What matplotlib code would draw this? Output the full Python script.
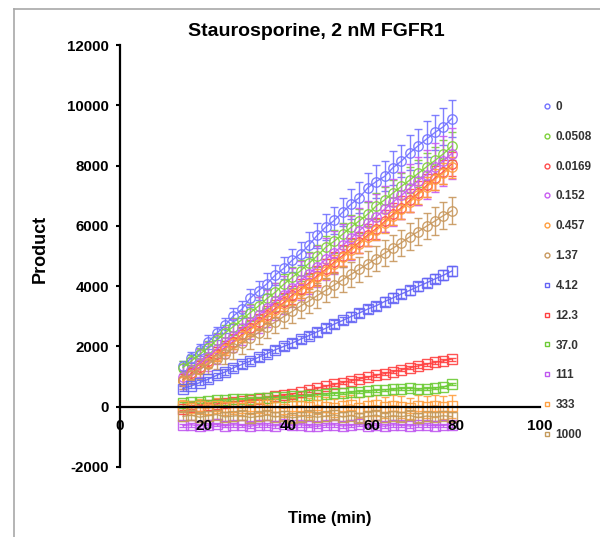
import matplotlib
matplotlib.use("Agg")
import matplotlib.pyplot as plt
from matplotlib.lines import Line2D

plt.rcParams['font.family'] = ['Liberation Sans', 'DejaVu Sans']
plt.rcParams['font.weight'] = 'bold'

# ---------------- data ----------------
time_min = [15, 17, 19, 21, 23, 25, 27, 29, 31, 33, 35, 37, 39, 41, 43, 45, 47,
            49, 51, 53, 55, 57, 59, 61, 63, 65, 67, 69, 71, 73, 75, 77, 79]

concentrations = ["0", "0.0508", "0.0169", "0.152", "0.457", "1.37",
                  "4.12", "12.3", "37.0", "111", "333", "1000"]

y_0 = [1350, 1620, 1880, 2150, 2430, 2700, 3010, 3230, 3600, 3850, 4080, 4370, 4590,
       4860, 5080, 5370, 5690, 5960, 6180, 6450, 6720, 6940, 7260, 7470, 7640, 7930,
       8150, 8420, 8660, 8880, 9100, 9290, 9560]
e_0 = [160, 180, 190, 220, 230, 240, 260, 280, 300, 310, 340, 330, 360, 380, 390, 420,
       410, 440, 460, 470, 500, 520, 480, 540, 500, 560, 540, 580, 560, 600, 570, 620, 600]

y_0508 = [1300, 1520, 1740, 1960, 2210, 2440, 2660, 2890, 3120, 3340, 3590, 3800, 4060,
          4290, 4510, 4760, 5010, 5290, 5490, 5720, 5950, 6170, 6390, 6660, 6860, 7090,
          7310, 7520, 7740, 7960, 8170, 8390, 8650]
e_0508 = [200, 210, 220, 230, 240, 260, 270, 280, 290, 300, 310, 320, 330, 340, 350, 360,
          370, 380, 380, 390, 400, 400, 410, 420, 420, 430, 430, 440, 440, 450, 450, 460, 460]

y_0169 = [900, 1110, 1310, 1520, 1750, 1960, 2160, 2400, 2610, 2810, 3050, 3260, 3460,
          3700, 3910, 4110, 4350, 4560, 4800, 5010, 5250, 5460, 5700, 5910, 6150, 6390,
          6600, 6850, 7090, 7340, 7590, 7800, 8050]
e_0169 = [180, 190, 200, 210, 220, 230, 240, 250, 260, 270, 280, 290, 300, 300, 310, 320,
          320, 330, 340, 340, 350, 350, 360, 360, 370, 370, 380, 380, 390, 390, 400, 400, 400]

y_152 = [1000, 1210, 1450, 1660, 1900, 2140, 2360, 2600, 2810, 3050, 3260, 3500, 3710,
         3950, 4190, 4410, 4650, 4890, 5110, 5350, 5590, 5840, 6090, 6300, 6550, 6790,
         7010, 7250, 7490, 7700, 7940, 8160, 8400]
e_152 = [400, 420, 450, 470, 500, 520, 540, 560, 580, 600, 610, 620, 640, 650, 660, 680,
         690, 700, 710, 720, 730, 740, 750, 760, 770, 780, 790, 800, 800, 810, 820, 830, 840]

y_457 = [850, 1040, 1250, 1460, 1690, 1900, 2110, 2340, 2550, 2760, 2990, 3200, 3410,
         3640, 3850, 4060, 4290, 4500, 4740, 4950, 5190, 5400, 5640, 5850, 6090, 6340,
         6550, 6790, 7040, 7290, 7540, 7750, 7950]
e_457 = [150, 160, 170, 180, 190, 200, 210, 210, 220, 230, 240, 240, 250, 260, 260, 270,
         280, 280, 290, 290, 300, 300, 310, 310, 320, 320, 330, 330, 330, 340, 340, 350, 350]

y_137 = [900, 1060, 1240, 1410, 1590, 1760, 1940, 2110, 2290, 2460, 2640, 2810, 2990,
         3160, 3340, 3510, 3690, 3860, 4040, 4210, 4390, 4560, 4740, 4910, 5090, 5260,
         5440, 5640, 5810, 5990, 6160, 6340, 6500]
e_137 = [300, 310, 320, 330, 340, 350, 350, 360, 360, 370, 370, 380, 380, 390, 390, 400,
         400, 400, 410, 410, 410, 420, 420, 420, 430, 430, 430, 440, 440, 440, 450, 450, 450]

y_412 = [600, 690, 800, 910, 1040, 1150, 1290, 1400, 1510, 1640, 1760, 1890, 2000, 2110,
         2240, 2360, 2490, 2600, 2740, 2860, 2990, 3110, 3240, 3350, 3490, 3610, 3740,
         3860, 3990, 4110, 4240, 4360, 4500]
e_412 = [80, 80, 90, 90, 90, 100, 100, 100, 110, 110, 110, 110, 120, 120, 120, 120, 130,
         130, 130, 130, 140, 140, 140, 140, 140, 150, 150, 150, 150, 150, 150, 160, 160]

y_123 = [-60, -10, 30, 60, 90, 120, 150, 180, 220, 260, 300, 340, 380, 420, 480, 540,
         610, 680, 740, 800, 860, 920, 980, 1040, 1100, 1160, 1220, 1290, 1350, 1410,
         1470, 1520, 1580]
e_123 = [50] * 33

y_370 = [130, 150, 170, 190, 210, 220, 240, 250, 270, 280, 300, 310, 330, 340, 360, 380,
         400, 420, 440, 460, 480, 500, 520, 540, 560, 580, 600, 610, 580, 600, 620, 650, 760]
e_370 = [40] * 33

y_111 = [-620, -600, -640, -610, -590, -630, -600, -620, -650, -600, -610, -640, -590,
         -620, -600, -630, -650, -610, -600, -640, -620, -590, -630, -610, -650, -600,
         -620, -640, -600, -610, -630, -620, -600]
e_111 = [60] * 33

y_333 = [20, -40, 10, -60, 30, -20, 0, -50, 20, -30, 40, -10, -60, 10, 30, -20, 50,
         0, -40, 20, 60, -30, 10, 40, -20, 30, 0, -50, 20, -10, 30, -20, 10]
e_333 = [200, 220, 240, 230, 250, 260, 240, 270, 260, 280, 270, 290, 280, 300, 290, 310,
         300, 320, 310, 330, 320, 340, 330, 350, 340, 350, 360, 350, 360, 370, 360, 380, 370]

y_1000 = [-320, -280, -350, -300, -260, -340, -310, -290, -360, -320, -280, -340, -300,
          -370, -330, -290, -350, -310, -270, -340, -300, -360, -320, -280, -350, -300,
          -330, -290, -360, -310, -340, -300, -330]
e_1000 = [150] * 33

series_y = [y_0, y_0508, y_0169, y_152, y_457, y_137, y_412, y_123, y_370, y_111, y_333, y_1000]
series_e = [e_0, e_0508, e_0169, e_152, e_457, e_137, e_412, e_123, e_370, e_111, e_333, e_1000]

colors = ["#7272FF", "#7FD13B", "#FF4B4B", "#C85CF2", "#FF9E3D", "#C8985E",
          "#6464F5", "#FF4040", "#6CCB35", "#C057F0", "#FFA040", "#C49A5C"]
markers = ["o"] * 6 + ["s"] * 6

xticks = [0, 20, 40, 60, 80, 100]
yticks = [-2000, 0, 2000, 4000, 6000, 8000, 10000, 12000]

# ---------------- figure ----------------
fig = plt.figure(figsize=(6.0, 5.37), dpi=100)
ax = fig.add_axes([0.2, 0.1304, 0.7, 0.7858])

for yv, ev, c, m in zip(series_y, series_e, colors, markers):
    ax.errorbar(time_min, yv, yerr=ev, color=c, marker=m, markersize=6.8,
                markerfacecolor="none", markeredgecolor=c, markeredgewidth=1.0,
                linewidth=1.0, elinewidth=1.0, capsize=3, capthick=1.0, alpha=0.9)

ax.set_xlim(0, 100)
ax.set_ylim(-2000, 12000)
ax.spines['top'].set_visible(False)
ax.spines['right'].set_visible(False)
ax.spines['bottom'].set_position(('data', 0))
ax.spines['bottom'].set_linewidth(1.6)
ax.spines['left'].set_linewidth(1.6)
ax.spines['bottom'].set_zorder(10)

ax.set_xticks(xticks)
ax.set_xticklabels([str(v) for v in xticks], fontsize=11, fontweight='bold')
ax.set_yticks(yticks)
ax.set_yticklabels([str(v) for v in yticks], fontsize=10.8, fontweight='bold')
ax.tick_params(axis='x', length=0, pad=9)
ax.tick_params(axis='y', direction='out', length=3, width=1.5, pad=5)
ax.xaxis.set_zorder(11)

fig.text(316 / 600, 1 - 32 / 537, "Staurosporine, 2 nM FGFR1", ha='center', va='center',
         fontsize=14, fontweight='bold')
fig.text(40 / 600, 1 - 249 / 537, "Product", ha='center', va='center', rotation=90,
         fontsize=13, fontweight='bold')
fig.text(330 / 600, 1 - 519 / 537, "Time (min)", ha='center', va='center',
         fontsize=12, fontweight='bold')

handles = [Line2D([], [], linestyle='none', marker=m, markersize=3.5,
                  markerfacecolor='none', markeredgecolor=c, markeredgewidth=1.0)
           for c, m in zip(colors, markers)]
leg = fig.legend(handles, concentrations, loc='upper left',
                 bbox_to_anchor=(543 / 600, 1 - 101 / 537), frameon=False,
                 fontsize=8.5, handlelength=0.6, handletextpad=0.45,
                 labelspacing=1.51, borderpad=0, borderaxespad=0)
for t in leg.get_texts():
    t.set_color('#333333')
    t.set_fontweight('bold')

# outer frame lines (left and top)
fig.add_artist(Line2D([14 / 600, 14 / 600], [0, 1 - 9 / 537], transform=fig.transFigure,
                      color='#A8A8A8', linewidth=1.2))
fig.add_artist(Line2D([14 / 600, 1], [1 - 9 / 537, 1 - 9 / 537], transform=fig.transFigure,
                      color='#A8A8A8', linewidth=1.2))

fig.savefig("out.png", dpi=100)
